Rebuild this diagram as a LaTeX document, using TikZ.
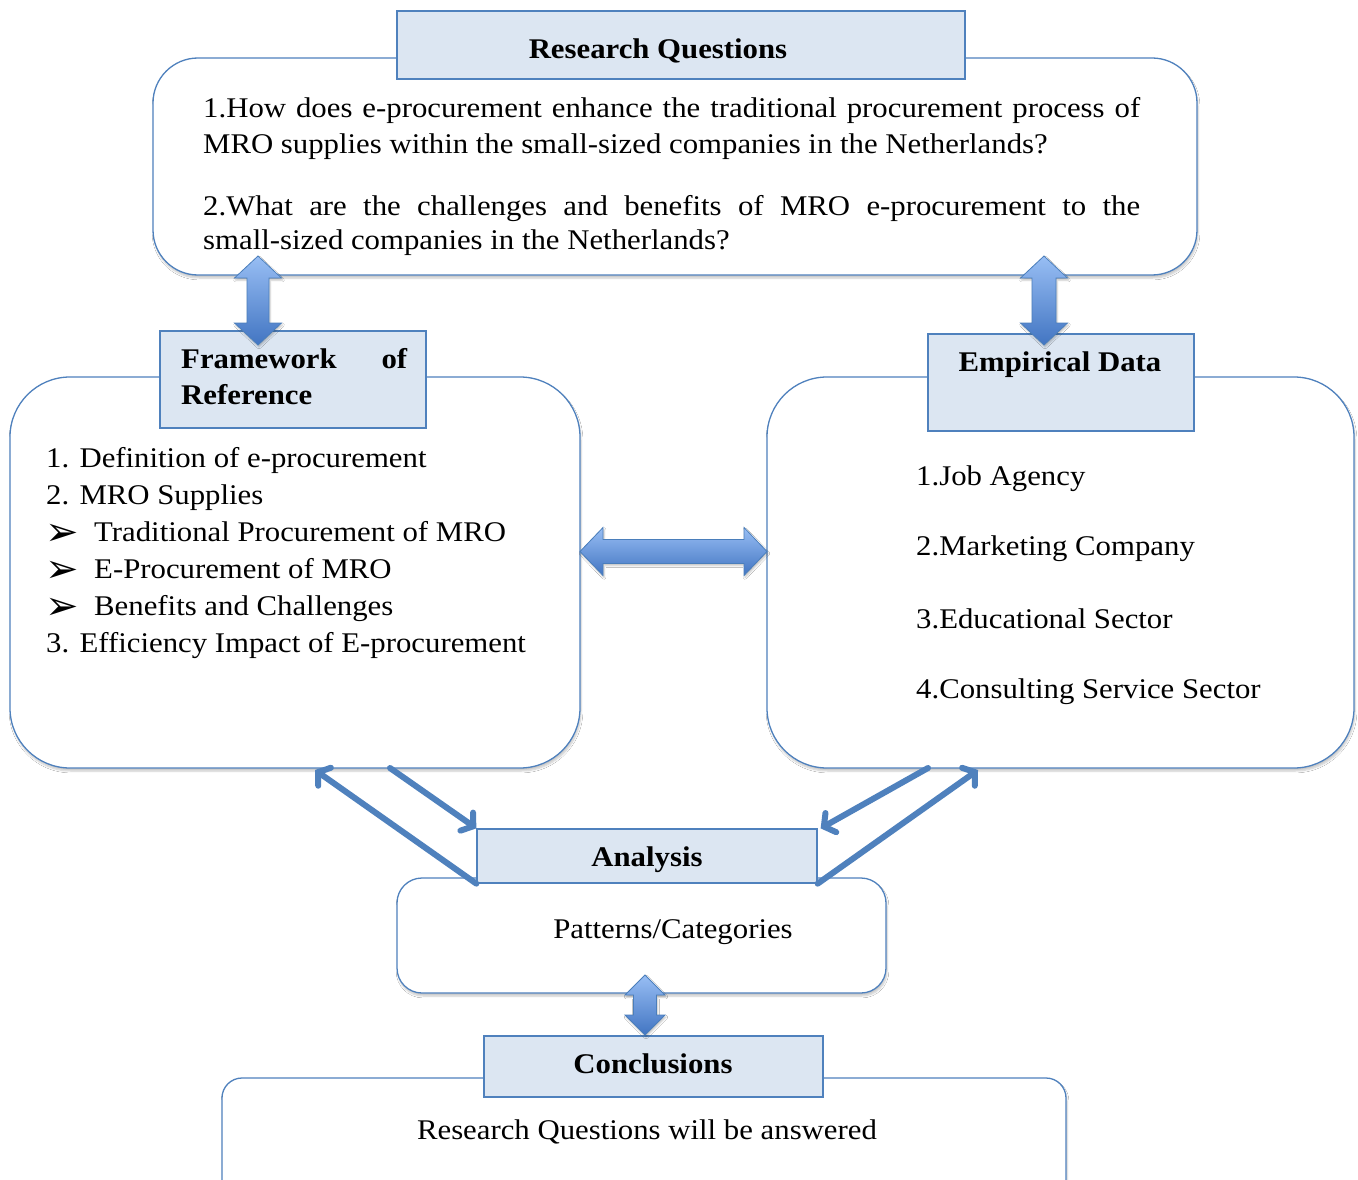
\documentclass[tikz,border=0pt]{standalone}
\usepackage{fontspec}
\setmainfont{Liberation Serif}[FakeStretch=1.08]
\newfontfamily\symfont{DejaVu Sans}
\usetikzlibrary{arrows.meta,shadows.blur,calc}

\definecolor{frameblue}{HTML}{4F81BD}
\definecolor{headfill}{HTML}{DCE6F2}
\definecolor{arrowlight}{HTML}{98BEF4}
\definecolor{arrowdark}{HTML}{4275C2}
\definecolor{arrowedge}{HTML}{4A7EBB}

\tikzset{
  panel/.style={draw=frameblue, line width=1.3pt, fill=white, rounded corners=#1,
    inner sep=0pt, blur shadow={shadow xshift=1pt, shadow yshift=-3pt,
    shadow opacity=22, shadow blur steps=6}},
  header/.style={draw=frameblue, line width=1.3pt, fill=headfill, inner sep=0pt},
  blockarr/.style={draw=arrowedge, line width=0.8pt, top color=arrowlight,
    bottom color=arrowdark, blur shadow={shadow xshift=1pt, shadow yshift=-2pt,
    shadow opacity=25, shadow blur steps=4}},
  linkarr/.style={draw=frameblue, line width=6pt, line cap=round,
    -{Straight Barb[length=8pt,width=22pt,line cap=round]}},
  body/.style={font=\fontsize{28.5}{34}\selectfont, inner sep=0pt},
  bodybold/.style={font=\fontsize{28.5}{34}\selectfont\bfseries, inner sep=0pt},
  bullet/.style={font=\symfont\fontsize{40}{42}\selectfont, inner sep=0pt},
}

% vertical double block arrow: top, bottom, head half width, shaft half width, head length
\newcommand\vdouble[5]{%
  \path[blockarr] let \p1=(#1), \p2=(#2) in
    (\x1,\y1) -- (\x1+#3pt,\y1-#5pt) -- (\x1+#4pt,\y1-#5pt) -- (\x1+#4pt,\y2+#5pt)
    -- (\x1+#3pt,\y2+#5pt) -- (\x1,\y2) -- (\x1-#3pt,\y2+#5pt) -- (\x1-#4pt,\y2+#5pt)
    -- (\x1-#4pt,\y1-#5pt) -- (\x1-#3pt,\y1-#5pt) -- cycle;}
% horizontal double block arrow: left, right, head half height, shaft half height, head length
\newcommand\hdouble[5]{%
  \path[blockarr] let \p1=(#1), \p2=(#2) in
    (\x1,\y1) -- (\x1+#5pt,\y1+#3pt) -- (\x1+#5pt,\y1+#4pt) -- (\x2-#5pt,\y1+#4pt)
    -- (\x2-#5pt,\y1+#3pt) -- (\x2,\y1) -- (\x2-#5pt,\y1-#3pt) -- (\x2-#5pt,\y1-#4pt)
    -- (\x1+#5pt,\y1-#4pt) -- (\x1+#5pt,\y1-#3pt) -- cycle;}

\begin{document}
\begin{tikzpicture}[x=1pt,y=-1pt]
\useasboundingbox[fill=white] (0,0) rectangle (1358,1180);

% rounded panels
\node[panel=45pt, minimum width=1044pt, minimum height=217pt] (rqbox) at (675,166.5) {};
\node[panel=60pt, minimum width=570pt, minimum height=391pt] (frbox) at (295,572.5) {};
\node[panel=60pt, minimum width=587pt, minimum height=391pt] (edbox) at (1060.5,572.5) {};
\node[panel=25pt, minimum width=489pt, minimum height=115pt] (anbox) at (641.5,935.5) {};
\node[panel=20pt, minimum width=844pt, minimum height=124pt] (cobox) at (644,1140) {};

% title headers
\node[header, minimum width=568pt, minimum height=68pt] (rqhead) at (681,45) {};
\node[header, minimum width=266pt, minimum height=97pt] (frhead) at (293,379.5) {};
\node[header, minimum width=266pt, minimum height=97pt] (edhead) at (1061,382.5) {};
\node[header, minimum width=340pt, minimum height=54pt] (anhead) at (647,856) {};
\node[header, minimum width=339pt, minimum height=61pt] (cohead) at (653.5,1066.5) {};

% header titles
\node[bodybold, anchor=base] (rqtitle) at (658,59) {Research Questions};
\node[bodybold, anchor=base west] (frtitle1) at (181,368) {\makebox[226pt][s]{Framework of}};
\node[bodybold, anchor=base west] (frtitle2) at (181,404) {Reference};
\node[bodybold, anchor=base] (edtitle) at (1060,371) {Empirical Data};
\node[bodybold, anchor=base] (antitle) at (647,866) {Analysis};
\node[bodybold, anchor=base] (cotitle) at (653,1073) {Conclusions};

% research questions
\node[body, anchor=base west] (q1a) at (203,118)
  {\makebox[937pt][s]{1.How does e-procurement enhance the traditional procurement process of}};
\node[body, anchor=base west] (q1b) at (203,154)
  {MRO supplies within the small-sized companies in the Netherlands?};
\node[body, anchor=base west] (q2a) at (203,215)
  {\makebox[937pt][s]{2.What are the challenges and benefits of MRO e-procurement to the}};
\node[body, anchor=base west] (q2b) at (203,249)
  {small-sized companies in the Netherlands?};

% framework list
\node[body, anchor=base west] (f1) at (46,467) {1. Definition of e-procurement};
\node[body, anchor=base west] (f2) at (46,504) {2. MRO Supplies};
\node[bullet, anchor=base west] (b1) at (45,545) {➢};
\node[body, anchor=base west] (f3) at (94,541) {Traditional Procurement of MRO};
\node[bullet, anchor=base west] (b2) at (45,582) {➢};
\node[body, anchor=base west] (f4) at (94,578) {E-Procurement of MRO};
\node[bullet, anchor=base west] (b3) at (45,619) {➢};
\node[body, anchor=base west] (f5) at (94,615) {Benefits and Challenges};
\node[body, anchor=base west] (f6) at (46,652) {3. Efficiency Impact of E-procurement};

% empirical list
\node[body, anchor=base west] (e1) at (916,485) {1.Job Agency};
\node[body, anchor=base west] (e2) at (916,555) {2.Marketing Company};
\node[body, anchor=base west] (e3) at (916,628) {3.Educational Sector};
\node[body, anchor=base west] (e4) at (916,698) {4.Consulting Service Sector};

% analysis and conclusions text
\node[body, anchor=base] (antext) at (673,938) {Patterns/Categories};
\node[body, anchor=base] (cotext) at (647,1139) {Research Questions will be answered};

% block arrows
\coordinate (rqL) at (258,256);  \coordinate (frT) at (258,345);
\coordinate (rqR) at (1044,256); \coordinate (edT) at (1044,345);
\coordinate (frE) at (580,551.5); \coordinate (edW) at (767,551.5);
\coordinate (anB) at (645,975);  \coordinate (coT) at (645,1035);
\vdouble{rqL}{frT}{23.5}{11}{22}
\vdouble{rqR}{edT}{23.5}{12}{22}
\hdouble{frE}{edW}{24}{12}{23}
\vdouble{anB}{coT}{20}{11.5}{20}

% links between panels and analysis
\coordinate (frOut) at (390,768); \coordinate (frIn) at (315,770);
\coordinate (edOut) at (928,768); \coordinate (edIn) at (978,770);
\draw[linkarr] (frOut) -- (anhead.north west);
\draw[linkarr] (anhead.south west) -- (frIn);
\draw[linkarr] (edOut) -- ($(anhead.north east)+(3,0)$);
\draw[linkarr] (anhead.south east) -- (edIn);
\end{tikzpicture}
\end{document}
